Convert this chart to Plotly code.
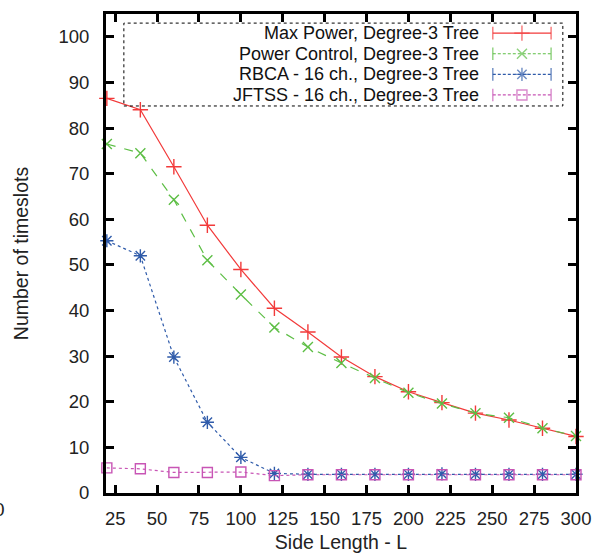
import plotly.graph_objects as go

side_length = [20, 40, 60, 80, 100, 120, 140, 160, 180, 200, 220, 240, 260, 280, 300]
max_power = [86.5, 84.0, 71.5, 58.7, 49.0, 40.5, 35.3, 29.8, 25.5, 22.2, 19.8, 17.5, 16.0, 14.2, 12.4]
power_control = [76.5, 74.5, 64.3, 51.0, 43.5, 36.3, 32.0, 28.5, 25.2, 22.0, 19.6, 17.5, 16.5, 14.2, 12.5]
rbca = [55.3, 52.0, 29.8, 15.5, 7.8, 4.3, 4.1, 4.1, 4.1, 4.1, 4.2, 4.1, 4.1, 4.1, 4.1]
jftss = [5.5, 5.3, 4.5, 4.5, 4.6, 3.8, 4.0, 4.0, 4.0, 4.0, 4.0, 4.0, 4.0, 4.0, 4.0]

names = ["Max Power, Degree-3 Tree", "Power Control, Degree-3 Tree",
         "RBCA - 16 ch., Degree-3 Tree", "JFTSS - 16 ch., Degree-3 Tree"]
series = [max_power, power_control, rbca, jftss]
colors = ["#F23A3A", "#5DBE45", "#2F5BAA", "#C855B5"]
dashes = ["solid", "dash", "dot", "dot"]
symbols = ["cross-thin-open", "x-thin-open", "asterisk-open", "square-open"]
msizes = [11, 10, 11, 10]

x_ticks = [25, 50, 75, 100, 125, 150, 175, 200, 225, 250, 275, 300]
y_ticks = [0, 10, 20, 30, 40, 50, 60, 70, 80, 90, 100]

font = "Liberation Sans, Arial, sans-serif"
fig = go.Figure()

for name, ys, c, d, s, ms in zip(names, series, colors, dashes, symbols, msizes):
    fig.add_trace(go.Scatter(
        x=side_length, y=ys, mode="lines+markers", name=name, showlegend=False,
        line=dict(color=c, width=1.2, dash=d),
        marker=dict(symbol=s, size=ms, color=c, line=dict(color=c, width=1.4)),
        cliponaxis=False,
    ))

# custom legend (text right-aligned, sample on the right) on an overlay axis
row_y = [0.960, 0.917, 0.874, 0.831]
for name, c, d, s, ms, ry in zip(names, colors, dashes, symbols, msizes, row_y):
    fig.add_trace(go.Scatter(
        x=[0.823, 0.885, 0.947], y=[ry, ry, ry], xaxis="x2", yaxis="y2",
        mode="lines+markers", showlegend=False, hoverinfo="skip",
        line=dict(color=c, width=1.2, dash=("solid" if d == "solid" else "3px,2px")),
        marker=dict(symbol=["line-ns-open", s, "line-ns-open"], size=[9, ms, 9],
                    color=c, line=dict(color=c, width=1.4)),
        cliponaxis=False,
    ))
    fig.add_annotation(x=0.797, y=ry, xref="x2", yref="y2", text=name, showarrow=False,
                       xanchor="right", yanchor="middle",
                       font=dict(family=font, size=18, color="#111111"))

fig.add_shape(type="rect", xref="x2", yref="y2", x0=0.038, x1=0.972, y0=0.808, y1=0.981,
              line=dict(color="black", width=1, dash="dot"), fillcolor="rgba(0,0,0,0)")

fig.add_annotation(x=-0.211, y=-0.035, xref="paper", yref="paper", text="0", showarrow=False,
                   xanchor="right", yanchor="middle", font=dict(family=font, size=19, color="#222"))

axis_common = dict(showgrid=False, zeroline=False, showline=True, linecolor="black",
                   linewidth=3, mirror="ticks", ticks="inside", ticklen=8, tickwidth=2.5,
                   tickcolor="black", automargin=False,
                   tickfont=dict(family=font, size=18.5, color="#222222"))

fig.update_layout(
    width=599, height=554,
    margin=dict(l=106, r=23, t=14, b=61),
    paper_bgcolor="white", plot_bgcolor="white",
    xaxis=dict(range=[19.5, 300], tickvals=x_ticks, ticklabelstandoff=7,
               title=dict(text="Side Length - L", font=dict(family=font, size=19.5, color="#222"), standoff=8),
               **axis_common),
    yaxis=dict(range=[0, 105], tickvals=y_ticks, ticklabelstandoff=10,
               title=dict(text="Number of timeslots", font=dict(family=font, size=19.5, color="#222"), standoff=25),
               **axis_common),
    xaxis2=dict(range=[0, 1], overlaying="x", visible=False, fixedrange=True),
    yaxis2=dict(range=[0, 1], overlaying="y", visible=False, fixedrange=True),
)

fig.write_html("out.html", config={"displayModeBar": False},
               post_script="document.body.style.margin='0';document.body.style.overflow='hidden';")
